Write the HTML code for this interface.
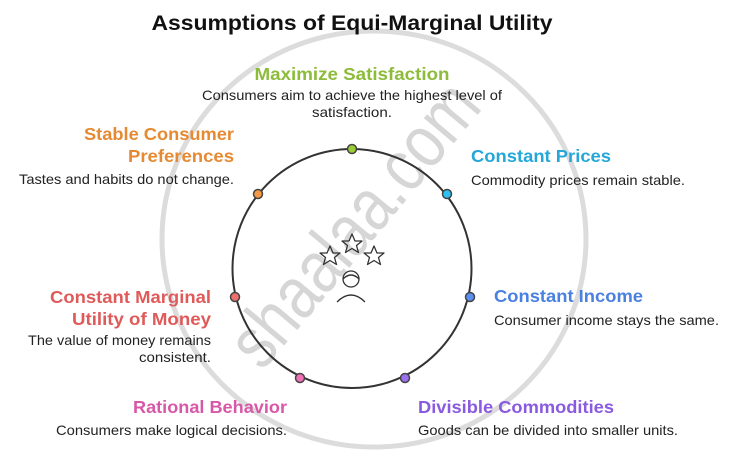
<!DOCTYPE html>
<html><head><style>
html,body{margin:0;padding:0;background:#fff;}
svg{display:block;font-family:"Liberation Sans",sans-serif;}
.h{font-weight:bold;font-size:17.5px;}
.b{font-size:14px;fill:#222;}
</style></head><body>
<svg width="740" height="471" viewBox="0 0 740 471">
<!-- watermark -->
<ellipse cx="374" cy="239" rx="212" ry="208" fill="none" stroke="#dcdcdc" stroke-width="5"/>
<text x="0" y="0" transform="translate(262,372) rotate(-50)" font-size="74" fill="#d6d6d6" textLength="345" lengthAdjust="spacingAndGlyphs">shaalaa.com</text>

<text x="352" y="30" text-anchor="middle" font-weight="bold" font-size="21" fill="#111" textLength="401" lengthAdjust="spacingAndGlyphs">Assumptions of Equi-Marginal Utility</text>

<circle cx="352" cy="268.5" r="119.5" fill="none" stroke="#333" stroke-width="2"/>
<g stroke="#444" stroke-width="1.5">
<circle cx="352" cy="149" r="4.5" fill="#9acd32"/>
<circle cx="258" cy="194" r="4.5" fill="#f59a42"/>
<circle cx="447" cy="194" r="4.5" fill="#2ec0f0"/>
<circle cx="235" cy="297" r="4.5" fill="#f07070"/>
<circle cx="470" cy="297" r="4.5" fill="#5a8ff0"/>
<circle cx="300" cy="378" r="4.5" fill="#f070b8"/>
<circle cx="405" cy="378" r="4.5" fill="#9a70f0"/>
</g>
<!-- icon -->
<g fill="none" stroke="#333" stroke-width="1.3" stroke-linejoin="round">
<polygon points="352,234 355,241 362,241 356.5,245.5 358.5,252.5 352,248.5 345.5,252.5 347.5,245.5 342,241 349,241"/>
<polygon points="330,246 333,253 340,253 334.5,257.5 336.5,264.5 330,260.5 323.5,264.5 325.5,257.5 320,253 327,253"/>
<polygon points="374,246 377,253 384,253 378.5,257.5 380.5,264.5 374,260.5 367.5,264.5 369.5,257.5 364,253 371,253"/>
<circle cx="351" cy="279" r="8"/>
<path d="M343,279 q8,-8 16,0"/>
<path d="M337,302 q14,-14 28,0"/>
</g>

<text x="352" y="80" text-anchor="middle" class="h" fill="#8dbb3a" textLength="195" lengthAdjust="spacingAndGlyphs">Maximize Satisfaction</text>
<text x="352" y="100" text-anchor="middle" class="b" textLength="300" lengthAdjust="spacingAndGlyphs">Consumers aim to achieve the highest level of</text>
<text x="352" y="117" text-anchor="middle" class="b" textLength="80" lengthAdjust="spacingAndGlyphs">satisfaction.</text>

<text x="234" y="140" text-anchor="end" class="h" fill="#e58a32" textLength="150" lengthAdjust="spacingAndGlyphs">Stable Consumer</text>
<text x="234" y="162" text-anchor="end" class="h" fill="#e58a32" textLength="106" lengthAdjust="spacingAndGlyphs">Preferences</text>
<text x="234" y="184" text-anchor="end" class="b" textLength="215" lengthAdjust="spacingAndGlyphs">Tastes and habits do not change.</text>

<text x="471" y="162" class="h" fill="#25a8d8" textLength="140" lengthAdjust="spacingAndGlyphs">Constant Prices</text>
<text x="471" y="185" class="b" textLength="214" lengthAdjust="spacingAndGlyphs">Commodity prices remain stable.</text>

<text x="211" y="303" text-anchor="end" class="h" fill="#e05a5a" textLength="161" lengthAdjust="spacingAndGlyphs">Constant Marginal</text>
<text x="211" y="325" text-anchor="end" class="h" fill="#e05a5a" textLength="139" lengthAdjust="spacingAndGlyphs">Utility of Money</text>
<text x="211" y="345" text-anchor="end" class="b" textLength="183" lengthAdjust="spacingAndGlyphs">The value of money remains</text>
<text x="211" y="362" text-anchor="end" class="b" textLength="72" lengthAdjust="spacingAndGlyphs">consistent.</text>

<text x="494" y="302" class="h" fill="#4a80e0" textLength="149" lengthAdjust="spacingAndGlyphs">Constant Income</text>
<text x="494" y="325" class="b" textLength="225" lengthAdjust="spacingAndGlyphs">Consumer income stays the same.</text>

<text x="287" y="413" text-anchor="end" class="h" fill="#d858a8" textLength="154" lengthAdjust="spacingAndGlyphs">Rational Behavior</text>
<text x="287" y="435" text-anchor="end" class="b" textLength="231" lengthAdjust="spacingAndGlyphs">Consumers make logical decisions.</text>

<text x="418" y="413" class="h" fill="#8a5ae0" textLength="196" lengthAdjust="spacingAndGlyphs">Divisible Commodities</text>
<text x="418" y="435" class="b" textLength="260" lengthAdjust="spacingAndGlyphs">Goods can be divided into smaller units.</text>
</svg>
</body></html>
